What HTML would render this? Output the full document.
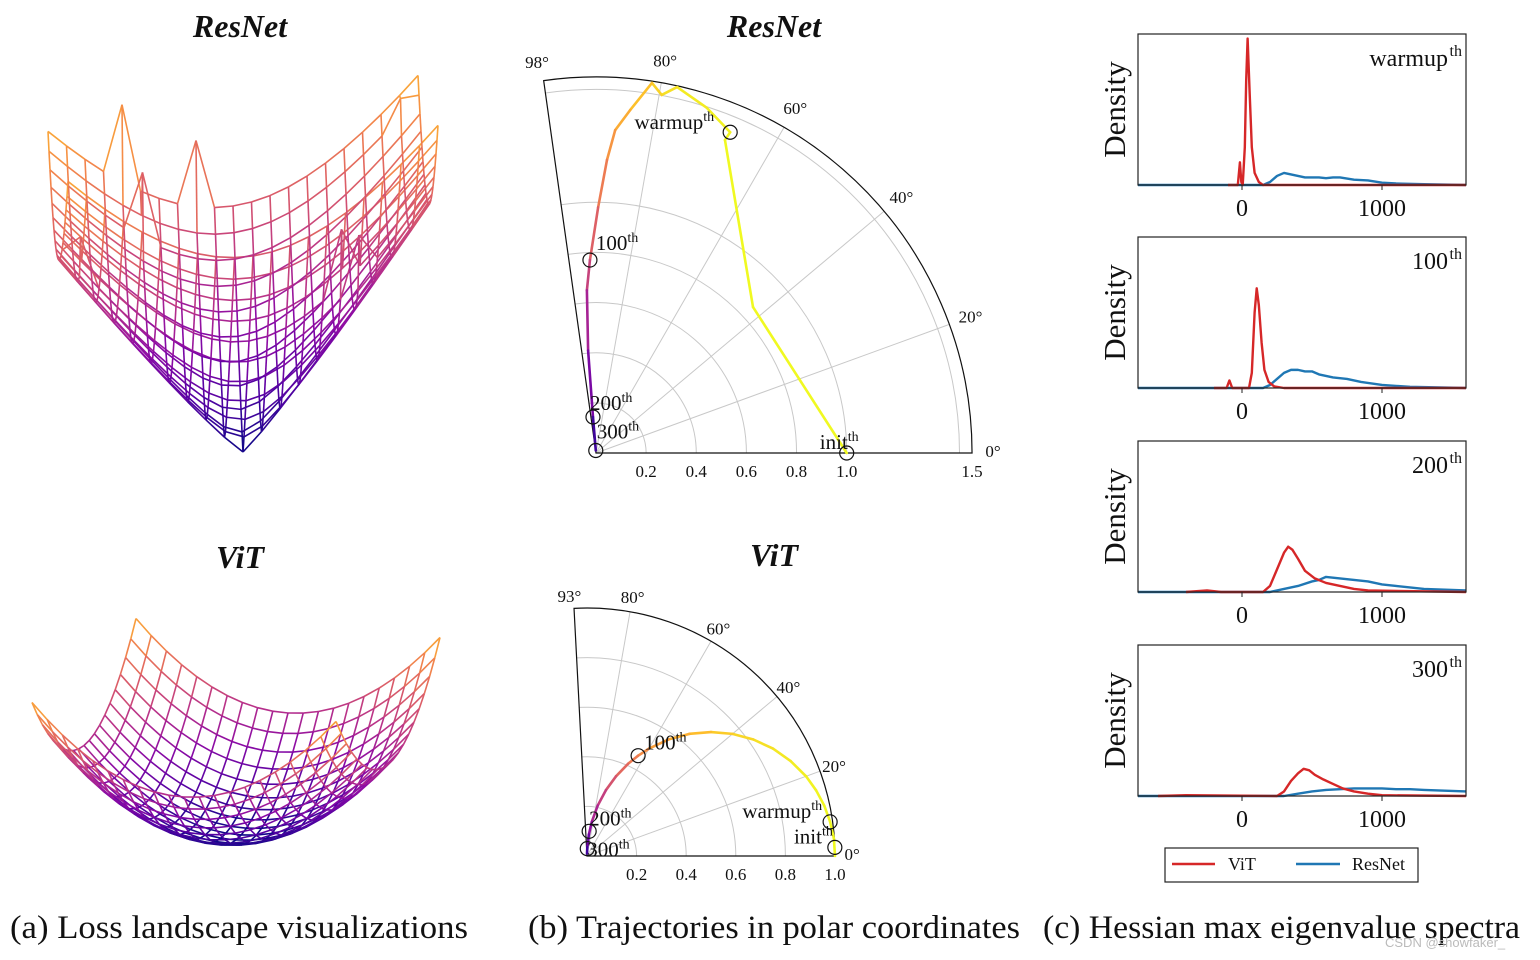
<!DOCTYPE html>
<html><head><meta charset="utf-8">
<style>
body{margin:0;background:#fff;width:1540px;height:960px;overflow:hidden}
svg{position:absolute;left:0;top:0}
text{font-family:"Liberation Serif","DejaVu Serif",serif;fill:#111}
</style></head>
<body>
<svg id="fig" width="1540" height="960" xmlns="http://www.w3.org/2000/svg">
<g id="land"></g>
<g id="polar"></g>
<g id="dens"></g>
<text x="240" y="37" font-size="32" font-style="italic" font-weight="bold" text-anchor="middle">ResNet</text>
<text x="240" y="568" font-size="32" font-style="italic" font-weight="bold" text-anchor="middle">ViT</text>
<text x="774" y="37" font-size="32" font-style="italic" font-weight="bold" text-anchor="middle">ResNet</text>
<text x="774" y="566" font-size="32" font-style="italic" font-weight="bold" text-anchor="middle">ViT</text>
<text x="10" y="938" font-size="33" textLength="458" lengthAdjust="spacingAndGlyphs">(a) Loss landscape visualizations</text>
<text x="528" y="938" font-size="33" textLength="492" lengthAdjust="spacingAndGlyphs">(b) Trajectories in polar coordinates</text>
<text x="1043" y="938" font-size="33" textLength="477" lengthAdjust="spacingAndGlyphs">(c) Hessian max eigenvalue spectra</text>
<text x="1385" y="947" font-size="13" style="fill:#bbb;font-family:'Liberation Sans',sans-serif">CSDN @showfaker_</text>
<g>
<rect x="1165" y="848" width="253" height="34" fill="#fff" stroke="#222" stroke-width="1.2"/>
<line x1="1172" y1="864" x2="1215" y2="864" stroke="#d62728" stroke-width="2.5"/>
<text x="1228" y="870" font-size="18">ViT</text>
<line x1="1296" y1="864" x2="1340" y2="864" stroke="#1f77b4" stroke-width="2.5"/>
<text x="1352" y="870" font-size="18">ResNet</text>
</g>
</svg>
<script>
const NS="http://www.w3.org/2000/svg";
function mk(p,t,a){const e=document.createElementNS(NS,t);for(const k in a)e.setAttribute(k,a[k]);p.appendChild(e);return e;}
const plasmaStops=[[13,8,135],[84,2,163],[139,10,165],[185,50,137],[219,92,104],[244,136,73],[254,188,43],[240,249,33]];
function plasma(t){t=Math.max(0,Math.min(1,t))*(plasmaStops.length-1);const i=Math.min(Math.floor(t),plasmaStops.length-2),f=t-i;const a=plasmaStops[i],b=plasmaStops[i+1];return `rgb(${a.map((v,k)=>Math.round(v+(b[k]-v)*f)).join(',')})`;}

/* ---------- Loss landscapes ---------- */
const gridN=21;
const resnetSpikes=[[-0.6,-1,0.35],[-0.5,-0.8,0.3],[-0.2,-1,0.3],[0.5,0.6,0.25],[0.6,0.5,0.2],[-0.9,0.4,0.15],[0.9,-0.9,0.08]];
function drawSurface(g,name,fz,cx,cy,a,b,c,d,zmax){
  const pts=[];
  for(let i=0;i<gridN;i++){pts.push([]);for(let j=0;j<gridN;j++){const u=-1+2*i/(gridN-1),v=-1+2*j/(gridN-1);const z=fz(u,v);pts[i].push([cx+u*a+v*b,cy+u*c+v*d-z,z]);}}
  const grp=mk(g,'g',{});
  
  
  for(let i=0;i<gridN;i++)for(let j=0;j<gridN;j++){
    const p=pts[i][j];
    [[i+1,j],[i,j+1]].forEach(([a2,b2])=>{if(a2<gridN&&b2<gridN){const q=pts[a2][b2];
      mk(grp,'line',{x1:p[0],y1:p[1],x2:q[0],y2:q[1],stroke:plasma((p[2]+q[2])/2/zmax),'stroke-width':1.6});}});
  }
}
drawSurface(document.getElementById('land'),'resnet-surface',(u,v)=>{
  let z=221*Math.pow(u*u+v*v,0.55);
  for(const s of resnetSpikes){if(Math.abs(u-s[0])<0.06&&Math.abs(v-s[1])<0.06)z+=s[2]*221;}
  return z;},243,452,185,10,-28,25,400);
drawSurface(document.getElementById('land'),'vit-surface',(u,v)=>85*(u*u+v*v),236,840,152,-52,9.5,42,210);

/* ---------- Polar plots ---------- */
const resnetR=[1.0,0.855,1.35,1.387,1.446,1.495,1.452,1.493,1.375,1.29,1.17,0.98,0.77,0.65,0.41,0.144,0.01];
const resnetTheta=[0,42.9,67.6,67.3,72.2,77.5,79.6,81.4,84.3,86.6,87.85,89.5,91.8,93.2,94.4,94.8,95];
const resnetMarkR=[1.0,1.387,0.77,0.144,0.01];
const resnetMarkT=[0,67.3,91.8,94.8,95];
const vitTheta=[0,4,8,12,16,20,25,30,35,40,45,50,55,60,63,66,70,74,78,82,85,88,89.5];
const vitR=[1.0,0.998,0.99,0.978,0.961,0.94,0.906,0.866,0.819,0.766,0.707,0.643,0.574,0.5,0.454,0.407,0.342,0.276,0.208,0.139,0.087,0.035,0.01];
const vitMarkR=[1.0,0.99,0.454,0.1,0.03];
const vitMarkT=[2,8,63,85,88];
const markLabels=['init','warmup','100','200','300'];

function polar(g,name,ox,oy,scale,rmax,tmax,rticks,rlabels,tticks,R,T,MR,MT,labPos){
  const grp=mk(g,'g',{});
  
  
  const P=(r,t)=>[ox+r*scale*Math.cos(t*Math.PI/180),oy-r*scale*Math.sin(t*Math.PI/180)];
  const arc=(r)=>{const a=P(r,0),b=P(r,tmax);return `M${a[0]},${a[1]} A${r*scale},${r*scale} 0 0 0 ${b[0]},${b[1]}`;};
  rticks.forEach(r=>{mk(grp,'path',{d:arc(r),fill:'none',stroke:'#c8c8c8','stroke-width':1});});
  tticks.forEach(t=>{const b=P(rmax,t);mk(grp,'line',{x1:ox,y1:oy,x2:b[0],y2:b[1],stroke:'#c8c8c8','stroke-width':1});
    const l=P(rmax*1.06,t);const tx=mk(grp,'text',{x:l[0],y:l[1]+6,'font-size':17,'text-anchor':'middle'});tx.textContent=t+'°';});
  mk(grp,'path',{d:arc(rmax)+` L${ox},${oy} Z`,fill:'none',stroke:'#111','stroke-width':1.2});
  let l0=P(rmax*1.03,0);let tx=mk(grp,'text',{x:l0[0]+2,y:l0[1]+4,'font-size':17});tx.textContent='0°';
  let lt=P(rmax*1.05,tmax);tx=mk(grp,'text',{x:lt[0]-4,y:lt[1]+6,'font-size':17,'text-anchor':'middle'});tx.textContent=tmax+'°';
  rlabels.forEach(r=>{const tx2=mk(grp,'text',{x:ox+r*scale,y:oy+24,'font-size':17,'text-anchor':'middle'});tx2.textContent=r.toFixed(1);});
  const n=R.length;
  for(let i=0;i<n-1;i++){const a=P(R[i],T[i]),b=P(R[i+1],T[i+1]);const f=i/(n-2);
    mk(grp,'line',{x1:a[0],y1:a[1],x2:b[0],y2:b[1],stroke:plasma(1-0.9*Math.pow(f,2.5)),'stroke-width':2.6,'stroke-linecap':'round'});}
  MR.forEach((r,i)=>{const p=P(r,MT[i]);mk(grp,'circle',{cx:p[0],cy:p[1],r:7,fill:'none',stroke:'#111','stroke-width':1.2});
    const t=mk(grp,'text',{x:p[0]+labPos[i][0],y:p[1]+labPos[i][1],'font-size':21,'text-anchor':labPos[i][2]});
    t.textContent=markLabels[i];const s=mk(t,'tspan',{dy:-8,'font-size':14});s.textContent='th';});
}
const pg=document.getElementById('polar');
polar(pg,'resnet-polar',596,453,250.7,1.5,98,[0.2,0.4,0.6,0.8,1.0,1.45],[0.2,0.4,0.6,0.8,1.0,1.5],[20,40,60,80],resnetR,resnetTheta,resnetMarkR,resnetMarkT,
  [[12,-4,'end'],[-16,-3,'end'],[6,-10,'start'],[-3,-7,'start'],[1,-12,'start']]);
polar(pg,'vit-polar',587,856,248,1.0,93,[0.2,0.4,0.6,0.8],[0.2,0.4,0.6,0.8,1.0],[20,40,60,80],vitR,vitTheta,vitMarkR,vitMarkT,
  [[-2,-4,'end'],[-8,-4,'end'],[6,-6,'start'],[0,-6,'start'],[0,8,'start']]);

/* ---------- Density panels ---------- */
const xTicks=[0,1000];
const panelLabels=['warmup','100','200','300'];
const vitX=[[-100,-30,-15,-5,5,20,30,40,55,70,90,120,150,1600],[-200,-110,-90,-70,50,70,90,105,120,140,160,190,230,300,1600],[-400,-250,-150,150,200,250,300,330,360,400,450,520,600,700,800,900,1600],[-600,-400,250,300,350,400,440,480,520,580,650,720,800,900,1000,1600]];
const vitY=[[0,0,0.15,0.02,0,0.25,0.7,0.97,0.6,0.25,0.08,0.02,0,0],[0,0,0.05,0,0,0.1,0.5,0.66,0.55,0.3,0.12,0.04,0.01,0,0],[0,0.01,0,0,0.04,0.15,0.26,0.3,0.28,0.22,0.14,0.09,0.06,0.04,0.02,0.01,0],[0,0.005,0,0.03,0.1,0.15,0.18,0.17,0.14,0.11,0.08,0.05,0.03,0.015,0.005,0]];
const resX=[[-750,150,200,250,300,350,400,450,500,550,600,650,700,800,900,1000,1100,1300,1600],[-750,150,200,250,300,350,400,450,500,550,650,750,850,1000,1200,1600],[-750,200,300,400,500,550,600,700,800,900,1000,1100,1300,1600],[-750,300,400,500,600,700,800,900,1000,1100,1200,1300,1600]];
const resY=[[0,0,0.02,0.06,0.08,0.07,0.06,0.05,0.05,0.05,0.045,0.05,0.05,0.035,0.03,0.015,0.01,0.005,0],[0,0,0.02,0.06,0.1,0.12,0.12,0.11,0.11,0.09,0.07,0.06,0.04,0.02,0.008,0],[0,0,0.02,0.04,0.07,0.08,0.1,0.09,0.08,0.07,0.05,0.04,0.02,0.01],[0,0,0.015,0.03,0.04,0.045,0.05,0.05,0.05,0.045,0.045,0.04,0.03]];
const panelTops=[34,237,441,645];
const dg=document.getElementById('dens');
const L=1138,Rr=1466,H=151,xmin=-743,xmax=1600;
const sx=x=>L+(x-xmin)/(xmax-xmin)*(Rr-L);
panelTops.forEach((top,k)=>{
  const grp=mk(dg,'g',{});
  
  
  const sy=v=>top+H-v*H;
  const line=(X,Y,c)=>mk(grp,'polyline',{points:X.map((x,i)=>sx(Math.max(xmin,x))+','+sy(Y[i])).join(' '),fill:'none',stroke:c,'stroke-width':2.4,'stroke-linejoin':'round'});
  line(resX[k],resY[k],'#1f77b4');
  line(vitX[k],vitY[k],'#d62728');
  mk(grp,'rect',{x:L,y:top,width:Rr-L,height:H,fill:'none',stroke:'#222','stroke-width':1.2});
  xTicks.forEach(t=>{mk(grp,'line',{x1:sx(t),y1:top+H,x2:sx(t),y2:top+H+5,stroke:'#222'});
    const tx=mk(grp,'text',{x:sx(t),y:top+H+31,'font-size':24,'text-anchor':'middle'});tx.textContent=t;});
  const yl=mk(grp,'text',{x:0,y:0,'font-size':31,'text-anchor':'middle',transform:`translate(1125,${top+H/2}) rotate(-90)`});yl.textContent='Density';
  const lb=mk(grp,'text',{x:Rr-18,y:top+32,'font-size':24,'text-anchor':'end'});lb.textContent=panelLabels[k];
  const s=mk(grp,'text',{x:Rr-4,y:top+22,'font-size':16,'text-anchor':'end'});s.textContent='th';
});
</script>
</body></html>
